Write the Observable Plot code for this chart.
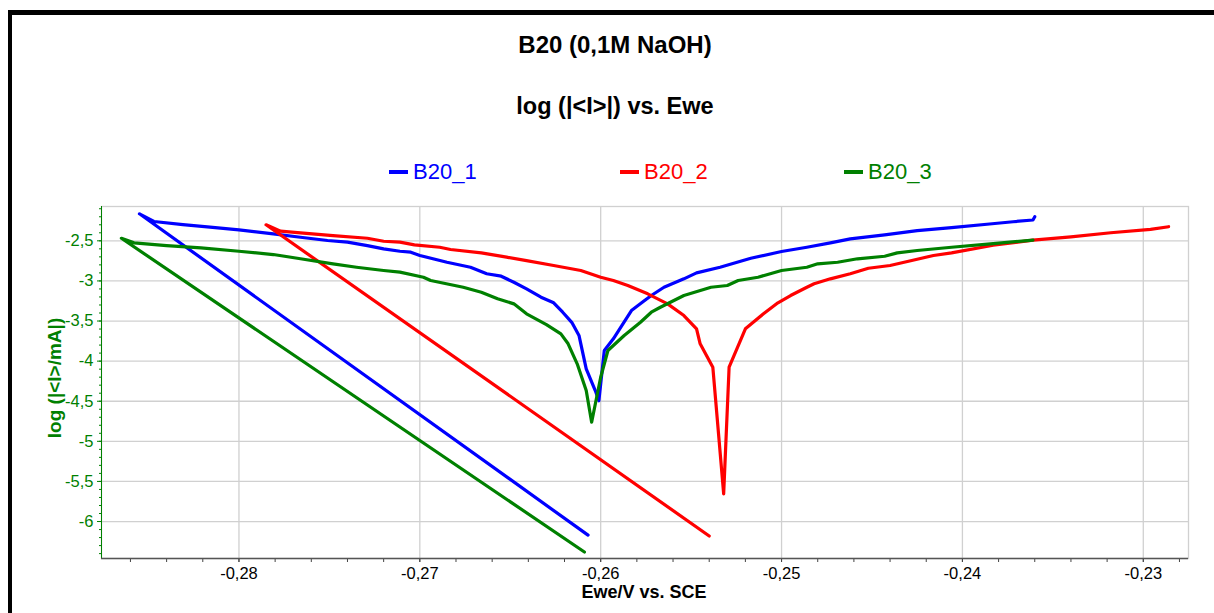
<!DOCTYPE html>
<html>
<head>
<meta charset="utf-8">
<script src="https://cdn.jsdelivr.net/npm/d3@7"></script>
<script src="https://cdn.jsdelivr.net/npm/@observablehq/plot@0.6"></script>
<style>
  html, body { margin: 0; padding: 0; background: #fff; width: 1214px; height: 613px; overflow: hidden; }
  body { position: relative; font-family: Arial, "Liberation Sans", sans-serif; }
  #frame { position: absolute; left: 8px; top: 10px; width: 1400px; height: 800px; border-left: 4px solid #000; border-top: 5px solid #000; z-index: 5; pointer-events: none; }
  .ttl { position: absolute; left: 0; width: 1230px; text-align: center; font-weight: bold; line-height: 1; color: #000; }
  .leg { position: absolute; top: 161px; font-size: 22px; line-height: 1; display: flex; align-items: center; }
  .leg span.sw { display: inline-block; width: 19px; height: 4px; margin-right: 5px; }
  #chart { position: absolute; left: 0; top: 0; }
</style>
</head>
<body>
<div id="frame"></div>
<div class="ttl" id="t1" style="top:33px; font-size:24px"></div>
<div class="ttl" id="t2" style="top:95px; font-size:23.5px"></div>
<div id="legend"></div>
<div id="chart"></div>
<script>
// ---- Data ----
const titleText = "B20 (0,1M NaOH)";
const subtitleText = "log (|<I>|) vs. Ewe";
const xLabel = "Ewe/V vs. SCE";
const yLabel = "log (|<I>/mA|)";

const seriesNames = ["B20_1", "B20_2", "B20_3"];

const b20_1_E = [-0.2607, -0.2855, -0.2847, -0.2831, -0.2816, -0.2800, -0.2781, -0.2766, -0.2751, -0.2740, -0.2729, -0.2720, -0.2711, -0.2705, -0.2700, -0.2685, -0.2672, -0.2663, -0.2655, -0.2648, -0.2641, -0.2633, -0.2626, -0.2621, -0.2616, -0.2612, -0.2608, -0.2603, -0.2601, -0.2598, -0.2593, -0.2583, -0.2577, -0.2572, -0.2565, -0.2554, -0.2547, -0.2534, -0.2517, -0.2500, -0.2486, -0.2473, -0.2462, -0.2443, -0.2425, -0.2406, -0.2385, -0.2372, -0.2361, -0.2360];
const b20_1_logI = [-6.17, -2.163, -2.259, -2.297, -2.330, -2.363, -2.413, -2.455, -2.496, -2.517, -2.559, -2.600, -2.630, -2.642, -2.683, -2.767, -2.829, -2.911, -2.941, -3.016, -3.099, -3.203, -3.273, -3.390, -3.516, -3.680, -4.096, -4.367, -4.494, -3.868, -3.722, -3.369, -3.266, -3.182, -3.079, -2.974, -2.899, -2.829, -2.717, -2.633, -2.580, -2.525, -2.475, -2.425, -2.372, -2.335, -2.290, -2.262, -2.240, -2.200];

const b20_2_E = [-0.2540, -0.2785, -0.2777, -0.2766, -0.2748, -0.2729, -0.2720, -0.2711, -0.2703, -0.2689, -0.2683, -0.2666, -0.2652, -0.2641, -0.2626, -0.2611, -0.2600, -0.2593, -0.2585, -0.2574, -0.2563, -0.2554, -0.2547, -0.2545, -0.2538, -0.2532, -0.2529, -0.2520, -0.2510, -0.2502, -0.2495, -0.2486, -0.2482, -0.2473, -0.2462, -0.2452, -0.2440, -0.2428, -0.2416, -0.2406, -0.2383, -0.2361, -0.2340, -0.2318, -0.2296, -0.2286];
const b20_2_logI = [-6.18, -2.300, -2.380, -2.400, -2.434, -2.468, -2.505, -2.517, -2.550, -2.580, -2.608, -2.650, -2.704, -2.746, -2.808, -2.870, -2.954, -2.995, -3.057, -3.161, -3.286, -3.432, -3.597, -3.784, -4.076, -5.655, -4.076, -3.597, -3.410, -3.273, -3.182, -3.079, -3.036, -2.974, -2.911, -2.842, -2.808, -2.746, -2.683, -2.650, -2.555, -2.492, -2.450, -2.399, -2.357, -2.324];

const b20_3_E = [-0.2609, -0.2865, -0.2858, -0.2840, -0.2821, -0.2800, -0.2781, -0.2766, -0.2748, -0.2735, -0.2720, -0.2711, -0.2698, -0.2694, -0.2676, -0.2666, -0.2657, -0.2648, -0.2641, -0.2630, -0.2622, -0.2618, -0.2613, -0.2608, -0.2605, -0.2600, -0.2596, -0.2587, -0.2578, -0.2572, -0.2567, -0.2554, -0.2539, -0.2530, -0.2524, -0.2513, -0.2500, -0.2486, -0.2480, -0.2469, -0.2458, -0.2443, -0.2436, -0.2425, -0.2406, -0.2383, -0.2361];
const b20_3_logI = [-6.38, -2.468, -2.525, -2.559, -2.587, -2.630, -2.671, -2.724, -2.787, -2.829, -2.870, -2.891, -2.954, -2.995, -3.079, -3.141, -3.223, -3.286, -3.410, -3.544, -3.660, -3.784, -4.034, -4.367, -4.762, -4.201, -3.868, -3.681, -3.515, -3.390, -3.328, -3.182, -3.079, -3.057, -2.995, -2.954, -2.870, -2.829, -2.787, -2.767, -2.724, -2.692, -2.650, -2.621, -2.580, -2.534, -2.492];

const xTicks = [-0.28, -0.27, -0.26, -0.25, -0.24, -0.23];
const yTicks = [-2.5, -3, -3.5, -4, -4.5, -5, -5.5, -6];
const xDomain = [-0.2876, -0.2275];
const yDomain = [-6.461, -2.072];

// ---- Styling ----
const seriesColors = ["#0000ff", "#ff0000", "#008000"];
const axisGreen = "#008000";
const gridColor = "#d0d0d0";
const fmt = d => String(+d.toFixed(3)).replace(".", ",");

// ---- Table built from arrays ----
const seriesE = [b20_1_E, b20_2_E, b20_3_E];
const seriesLogI = [b20_1_logI, b20_2_logI, b20_3_logI];
const rows = seriesNames.flatMap((name, s) => seriesE[s].map((e, i) => ({series: name, E: e, logI: seriesLogI[s][i]})));

const minorX = d3.range(-143, -113).map(i => i * 0.002);
const minorY = d3.range(21, 65).map(i => -i / 10);

// ---- Titles & legend ----
document.getElementById("t1").textContent = titleText;
document.getElementById("t2").textContent = subtitleText;
const legendX = [389, 620, 844];
const legend = document.getElementById("legend");
seriesNames.forEach((name, i) => {
  const d = document.createElement("div");
  d.className = "leg";
  d.style.left = legendX[i] + "px";
  d.style.color = seriesColors[i];
  const sw = document.createElement("span");
  sw.className = "sw";
  sw.style.background = seriesColors[i];
  d.appendChild(sw);
  d.appendChild(document.createTextNode(name));
  legend.appendChild(d);
});

// ---- Chart ----
const chart = Plot.plot({
  width: 1214,
  height: 613,
  marginLeft: 101,
  marginRight: 26,
  marginTop: 206,
  marginBottom: 55,
  style: {fontFamily: "Arial, 'Liberation Sans', sans-serif", fontSize: "16px", background: "transparent", overflow: "visible"},
  x: {domain: xDomain, label: null},
  y: {domain: yDomain, label: null},
  color: {domain: seriesNames, range: seriesColors},
  marks: [
    Plot.gridX(xTicks, {stroke: gridColor, strokeOpacity: 1, strokeWidth: 1.3}),
    Plot.gridY(yTicks, {stroke: gridColor, strokeOpacity: 1, strokeWidth: 1.3}),
    Plot.frame({stroke: gridColor, strokeWidth: 1.3}),
    Plot.axisX(minorX, {anchor: "bottom", tickSize: 4, stroke: "#444", fill: "none", label: null}),
    Plot.axisX(xTicks, {anchor: "bottom", tickSize: 4, tickPadding: 5, stroke: "#444", fill: "#000", fontSize: 16.5, tickFormat: fmt, label: null}),
    Plot.axisY(minorY, {anchor: "left", tickSize: 2, stroke: axisGreen, fill: "none", label: null}),
    Plot.axisY(yTicks, {anchor: "left", tickSize: 4, tickPadding: 4, stroke: axisGreen, fill: axisGreen, fontSize: 16.5, tickFormat: fmt, label: null}),
    Plot.ruleX([xDomain[0]], {stroke: axisGreen, strokeWidth: 1}),
    Plot.ruleY([yDomain[0]], {stroke: "#555", strokeWidth: 1.6}),
    Plot.line(rows, {x: "E", y: "logI", z: "series", stroke: "series", strokeWidth: 3.2, strokeLinejoin: "round", strokeLinecap: "round"}),
    Plot.text([yLabel], {frameAnchor: "left", textAnchor: "middle", lineAnchor: "middle", dx: -47, dy: -4.5, rotate: -90, fill: axisGreen, fontWeight: "bold", fontSize: 19}),
    Plot.text([xLabel], {frameAnchor: "bottom", textAnchor: "middle", lineAnchor: "middle", dx: -1, dy: 34, fill: "#000", fontWeight: "bold", fontSize: 18})
  ]
});
document.getElementById("chart").appendChild(chart);
</script>
</body>
</html>
